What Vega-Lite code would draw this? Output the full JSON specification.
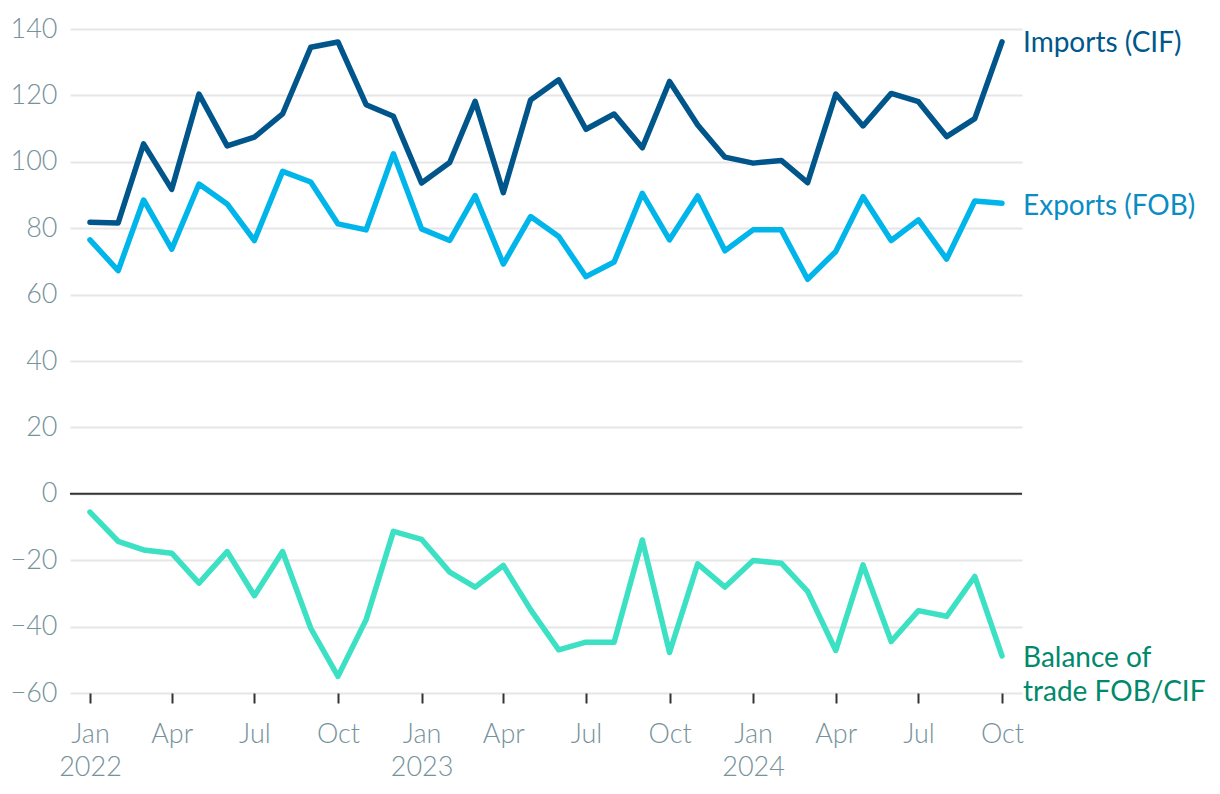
{
  "$schema": "https://vega.github.io/schema/vega-lite/v6.json",
  "autosize": "none",
  "width": 952,
  "height": 664,
  "padding": {"left": 70, "top": 29, "right": 198, "bottom": 101},
  "background": "white",
  "config": {
    "view": {"stroke": null},
    "font": "Lato"
  },
  "data": {
    "values": [
      {"date": "2022-01-01", "imports": 81.8, "exports": 76.5, "balance": -5.5},
      {"date": "2022-02-01", "imports": 81.6, "exports": 67.2, "balance": -14.3},
      {"date": "2022-03-01", "imports": 105.4, "exports": 88.5, "balance": -16.9},
      {"date": "2022-04-01", "imports": 91.7, "exports": 73.7, "balance": -17.9},
      {"date": "2022-05-01", "imports": 120.4, "exports": 93.3, "balance": -26.9},
      {"date": "2022-06-01", "imports": 104.8, "exports": 87.3, "balance": -17.4},
      {"date": "2022-07-01", "imports": 107.4, "exports": 76.3, "balance": -30.7},
      {"date": "2022-08-01", "imports": 114.4, "exports": 97.1, "balance": -17.4},
      {"date": "2022-09-01", "imports": 134.5, "exports": 93.9, "balance": -40.5},
      {"date": "2022-10-01", "imports": 136.1, "exports": 81.3, "balance": -55.0},
      {"date": "2022-11-01", "imports": 117.2, "exports": 79.5, "balance": -37.9},
      {"date": "2022-12-01", "imports": 113.7, "exports": 102.4, "balance": -11.3},
      {"date": "2023-01-01", "imports": 93.6, "exports": 79.8, "balance": -13.7},
      {"date": "2023-02-01", "imports": 99.8, "exports": 76.3, "balance": -23.6},
      {"date": "2023-03-01", "imports": 118.2, "exports": 89.8, "balance": -28.1},
      {"date": "2023-04-01", "imports": 90.7, "exports": 69.2, "balance": -21.6},
      {"date": "2023-05-01", "imports": 118.6, "exports": 83.5, "balance": -34.9},
      {"date": "2023-06-01", "imports": 124.7, "exports": 77.5, "balance": -47.0},
      {"date": "2023-07-01", "imports": 109.8, "exports": 65.4, "balance": -44.7},
      {"date": "2023-08-01", "imports": 114.4, "exports": 69.8, "balance": -44.7},
      {"date": "2023-09-01", "imports": 104.2, "exports": 90.5, "balance": -13.9},
      {"date": "2023-10-01", "imports": 124.2, "exports": 76.5, "balance": -47.8},
      {"date": "2023-11-01", "imports": 111.1, "exports": 89.7, "balance": -21.1},
      {"date": "2023-12-01", "imports": 101.4, "exports": 73.2, "balance": -28.1},
      {"date": "2024-01-01", "imports": 99.6, "exports": 79.5, "balance": -20.1},
      {"date": "2024-02-01", "imports": 100.4, "exports": 79.5, "balance": -20.9},
      {"date": "2024-03-01", "imports": 93.7, "exports": 64.6, "balance": -29.4},
      {"date": "2024-04-01", "imports": 120.4, "exports": 73.0, "balance": -47.2},
      {"date": "2024-05-01", "imports": 110.8, "exports": 89.5, "balance": -21.4},
      {"date": "2024-06-01", "imports": 120.6, "exports": 76.3, "balance": -44.5},
      {"date": "2024-07-01", "imports": 118.1, "exports": 82.5, "balance": -35.2},
      {"date": "2024-08-01", "imports": 107.6, "exports": 70.7, "balance": -36.9},
      {"date": "2024-09-01", "imports": 113.0, "exports": 88.2, "balance": -24.9},
      {"date": "2024-10-01", "imports": 136.1, "exports": 87.5, "balance": -48.8}
    ]
  },
  "layer": [
    {
      "mark": {"type": "line", "color": "#00558b", "strokeWidth": 5.5, "strokeCap": "round", "strokeJoin": "round"},
      "encoding": {
        "x": {
          "field": "date",
          "type": "temporal",
          "scale": {
            "type": "utc",
            "domain": [
              {"year": 2021, "month": 12, "date": 10, "utc": true},
              {"year": 2024, "month": 10, "date": 23, "utc": true}
            ]
          },
          "axis": {
            "title": null,
            "grid": false,
            "domain": false,
            "ticks": true,
            "tickColor": "#333333",
            "tickWidth": 2,
            "tickSize": 10,
            "tickCount": {"interval": "month", "step": 3},
            "labelFont": "Lato",
            "labelFontWeight": 300,
            "labelFontSize": 27,
            "labelColor": "#76929b",
            "labelPadding": 18,
            "labelLineHeight": 33,
            "labelFlush": false,
            "labelOverlap": false,
            "labelExpr": "utcmonth(datum.value) == 0 ? [utcFormat(datum.value, '%b'), utcFormat(datum.value, '%Y')] : utcFormat(datum.value, '%b')"
          }
        },
        "y": {
          "field": "imports",
          "type": "quantitative",
          "scale": {"domain": [-60, 140], "nice": false, "zero": false},
          "axis": {
            "title": null,
            "values": [-60, -40, -20, 0, 20, 40, 60, 80, 100, 120, 140],
            "grid": true,
            "gridColor": "#e6e6e6",
            "gridWidth": 2,
            "domain": false,
            "ticks": false,
            "tickSize": 0,
            "labelFont": "Lato",
            "labelFontWeight": 300,
            "labelFontSize": 27,
            "labelColor": "#76929b",
            "labelPadding": 13
          }
        }
      }
    },
    {
      "data": {"values": [{"level": 0}]},
      "mark": {"type": "rule", "color": "#333333", "strokeWidth": 2},
      "encoding": {"y": {"field": "level", "type": "quantitative"}}
    },
    {
      "mark": {"type": "line", "color": "#00b5ea", "strokeWidth": 5.5, "strokeCap": "round", "strokeJoin": "round"},
      "encoding": {
        "x": {"field": "date", "type": "temporal"},
        "y": {"field": "exports", "type": "quantitative"}
      }
    },
    {
      "mark": {"type": "line", "color": "#3ce0c3", "strokeWidth": 5.5, "strokeCap": "round", "strokeJoin": "round"},
      "encoding": {
        "x": {"field": "date", "type": "temporal"},
        "y": {"field": "balance", "type": "quantitative"}
      }
    },
    {
      "transform": [{"filter": "utcyear(datum.date) == 2024 && utcmonth(datum.date) == 9"}],
      "mark": {"type": "text", "text": "Imports (CIF)", "align": "left", "baseline": "alphabetic", "dx": 21, "dy": 10, "font": "Lato", "fontSize": 28, "color": "#00578c"},
      "encoding": {
        "x": {"field": "date", "type": "temporal"},
        "y": {"field": "imports", "type": "quantitative"}
      }
    },
    {
      "transform": [{"filter": "utcyear(datum.date) == 2024 && utcmonth(datum.date) == 9"}],
      "mark": {"type": "text", "text": "Exports (FOB)", "align": "left", "baseline": "alphabetic", "dx": 21, "dy": 12, "font": "Lato", "fontSize": 28, "color": "#0a8cc4"},
      "encoding": {
        "x": {"field": "date", "type": "temporal"},
        "y": {"field": "exports", "type": "quantitative"}
      }
    },
    {
      "transform": [{"filter": "utcyear(datum.date) == 2024 && utcmonth(datum.date) == 9"}],
      "mark": {"type": "text", "text": ["Balance of", "trade FOB/CIF"], "lineHeight": 34, "align": "left", "baseline": "alphabetic", "dx": 21, "dy": 11, "font": "Lato", "fontSize": 28, "color": "#00896c"},
      "encoding": {
        "x": {"field": "date", "type": "temporal"},
        "y": {"field": "balance", "type": "quantitative"}
      }
    }
  ]
}
